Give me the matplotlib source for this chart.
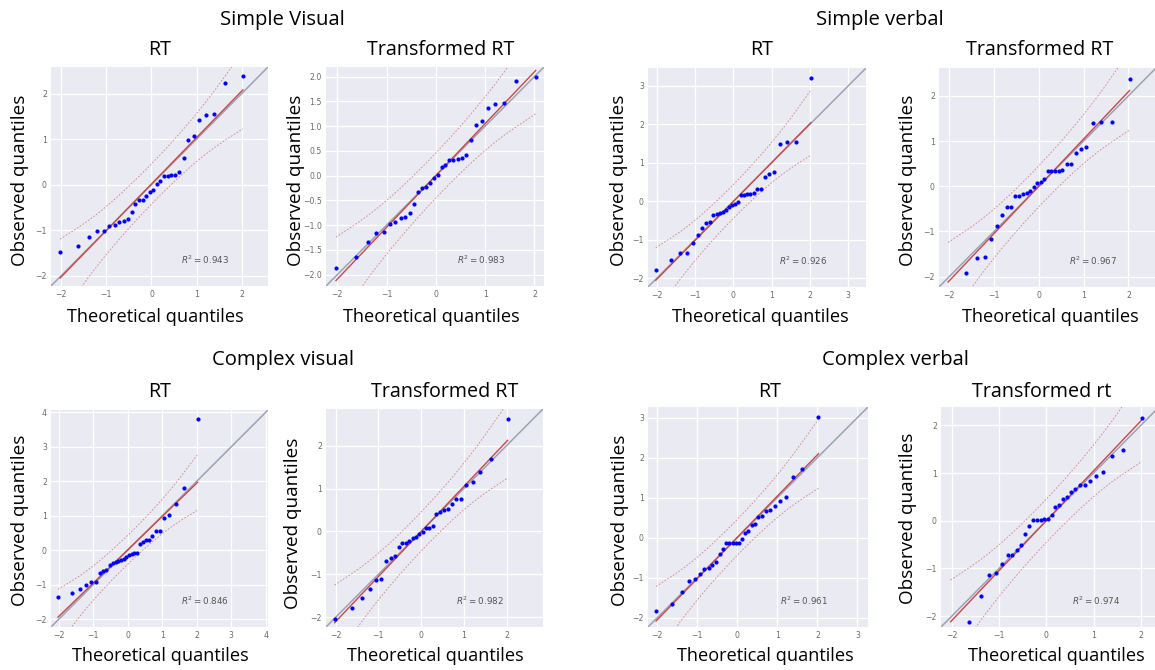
import numpy as np
import matplotlib
matplotlib.use("Agg")
import matplotlib.pyplot as plt
from matplotlib.ticker import MultipleLocator
from statistics import NormalDist

# theoretical normal quantiles for n = 32 (Filliben positions)
theor_q = [-2.025, -1.626, -1.386, -1.207, -1.060, -0.932, -0.819, -0.715,
           -0.618, -0.527, -0.440, -0.356, -0.275, -0.195, -0.116, -0.039,
           0.039, 0.116, 0.195, 0.275, 0.356, 0.440, 0.527, 0.618,
           0.715, 0.819, 0.932, 1.060, 1.207, 1.386, 1.626, 2.025]

# observed (standardised) quantiles, one list per panel
simple_visual_rt = [-1.47, -1.34, -1.15, -1.03, -1.03, -0.91, -0.88, -0.82,
                    -0.81, -0.75, -0.61, -0.42, -0.34, -0.33, -0.26, -0.17,
                    -0.11, 0.02, 0.07, 0.18, 0.18, 0.20, 0.21, 0.28,
                    0.59, 0.97, 1.06, 1.41, 1.53, 1.54, 2.23, 2.39]
simple_visual_trt = [-1.855, -1.64, -1.34, -1.15, -1.13, -0.98, -0.93, -0.86,
                     -0.83, -0.76, -0.57, -0.34, -0.24, -0.23, -0.15, -0.04,
                     0.01, 0.17, 0.21, 0.31, 0.32, 0.33, 0.35, 0.42,
                     0.71, 1.03, 1.10, 1.36, 1.45, 1.46, 1.91, 2.00]
simple_verbal_rt = [-1.79, -1.53, -1.34, -1.34, -1.08, -0.88, -0.70, -0.56,
                    -0.55, -0.36, -0.34, -0.30, -0.27, -0.24, -0.15, -0.10,
                    -0.08, -0.02, 0.17, 0.17, 0.18, 0.19, 0.21, 0.33,
                    0.33, 0.63, 0.72, 0.77, 1.49, 1.53, 1.53, 3.21]
simple_verbal_trt = [-2.52, -1.91, -1.58, -1.56, -1.16, -0.88, -0.64, -0.46,
                     -0.45, -0.22, -0.22, -0.17, -0.14, -0.10, -0.01, 0.07,
                     0.09, 0.15, 0.33, 0.33, 0.34, 0.34, 0.36, 0.49,
                     0.49, 0.74, 0.83, 0.86, 1.40, 1.41, 1.42, 2.37]
complex_visual_rt = [-1.36, -1.23, -1.12, -1.02, -0.92, -0.92, -0.66, -0.61,
                     -0.58, -0.42, -0.38, -0.35, -0.31, -0.28, -0.25, -0.19,
                     -0.14, -0.11, -0.08, -0.07, 0.19, 0.25, 0.29, 0.30,
                     0.42, 0.55, 0.55, 0.93, 1.01, 1.34, 1.80, 3.81]
complex_visual_trt = [-2.05, -1.78, -1.54, -1.34, -1.14, -1.12, -0.70, -0.62,
                      -0.57, -0.36, -0.28, -0.27, -0.22, -0.16, -0.12, -0.05,
                      -0.01, 0.08, 0.09, 0.12, 0.41, 0.45, 0.51, 0.52,
                      0.64, 0.76, 0.76, 1.08, 1.15, 1.39, 1.69, 2.62]
complex_verbal_rt = [-1.83, -1.66, -1.35, -1.07, -1.03, -0.91, -0.77, -0.76,
                     -0.69, -0.61, -0.41, -0.27, -0.14, -0.14, -0.13, -0.12,
                     -0.12, -0.03, 0.12, 0.18, 0.32, 0.35, 0.51, 0.55,
                     0.67, 0.69, 0.78, 0.91, 1.01, 1.51, 1.71, 3.02]
complex_verbal_trt = [-2.55, -2.12, -1.58, -1.14, -1.09, -0.91, -0.72, -0.71,
                      -0.61, -0.51, -0.27, -0.12, 0.01, 0.01, 0.01, 0.03,
                      0.03, 0.13, 0.28, 0.33, 0.46, 0.49, 0.61, 0.66,
                      0.75, 0.76, 0.84, 0.93, 1.02, 1.35, 1.48, 2.15]

panel_data = [simple_visual_rt, simple_visual_trt, simple_verbal_rt, simple_verbal_trt,
              complex_visual_rt, complex_visual_trt, complex_verbal_rt, complex_verbal_trt]
r2_values = [0.943, 0.983, 0.926, 0.967, 0.846, 0.982, 0.961, 0.974]
panel_titles = ["RT", "Transformed RT", "RT", "Transformed RT",
                "RT", "Transformed RT", "RT", "Transformed rt"]
group_titles = ["Simple Visual", "Simple verbal", "Complex visual", "Complex verbal"]

W, H = 1155, 670
LABEL_FONT = ["Open Sans", "DejaVu Sans"]

# axes boxes in pixels: left, top, right, bottom
boxes = [(51, 67, 268, 286), (326, 67, 544, 286), (648, 68, 866, 287), (939, 68, 1156, 287),
         (51, 410, 268, 627), (326, 409, 543, 627), (648, 407, 868, 627), (941, 407, 1159, 627)]
title_pos = [(160, 50), (441, 50), (762, 50), (1040, 50),
             (160, 392), (445, 392), (770, 392), (1042, 392)]
xlabel_pos = [(155, 317), (431, 317), (760, 317), (1050, 317),
              (160, 656), (435, 656), (765, 656), (1056, 656)]
ylabel_pos = [(20, 180), (296, 180), (619, 180), (908, 180),
              (20, 520), (293, 523), (620, 520), (908, 518)]
group_pos = [(282, 20), (880, 20), (283, 360), (895, 360)]

fig = plt.figure(figsize=(W / 100, H / 100), dpi=100)
nd = NormalDist()
theor = np.array(theor_q)
n = len(theor)
ppts = (np.arange(1, n + 1) - 0.5) / n
crit = nd.inv_cdf(0.975)
pdf = np.array([nd.pdf(t) for t in theor])

for i, obs in enumerate(panel_data):
    l, t, r, b = boxes[i]
    ax = fig.add_axes([l / W, 1 - b / H, (r - l) / W, (b - t) / H])
    ax.set_facecolor("#EAEAF2")
    for s in ax.spines.values():
        s.set_visible(False)
    ax.grid(True, color="white", lw=0.9)
    ax.set_axisbelow(True)

    obs = np.array(obs)
    ax.plot(theor, obs, "o", color="blue", ms=3, mew=0, zorder=3)

    # square limits: lower from x, upper from y
    lo = ax.get_xlim()[0]
    hi = ax.get_ylim()[1]
    ax.plot([lo, hi], [lo, hi], color="#9aa3b5", lw=1.1, zorder=2)
    ax.set_xlim(lo, hi)
    ax.set_ylim(lo, hi)

    slope, intercept = np.polyfit(theor, obs, 1)
    fit = slope * theor + intercept
    ax.plot(theor, fit, color="#c84848", lw=1.0, zorder=2)

    se = (slope / pdf) * np.sqrt(ppts * (1 - ppts) / n)
    ax.plot(theor, fit + crit * se, color="#d05050", lw=0.6, ls=(0, (2, 2)), alpha=0.7)
    ax.plot(theor, fit - crit * se, color="#d05050", lw=0.6, ls=(0, (2, 2)), alpha=0.7)

    ax.text(lo + 0.6 * (hi - lo), lo + 0.1 * (hi - lo), "$R^2=%.3f$" % r2_values[i],
            fontsize=6.3, color="#555555")

    ax.xaxis.set_major_locator(MultipleLocator(1))
    ax.yaxis.set_major_locator(MultipleLocator(0.5 if i == 1 else 1))
    ax.tick_params(length=0, labelsize=5.6, labelcolor="#6a6a6a", pad=3)

    fig.text(title_pos[i][0] / W, 1 - title_pos[i][1] / H, panel_titles[i],
             ha="center", va="center", fontsize=14.2, family=LABEL_FONT)
    fig.text(xlabel_pos[i][0] / W, 1 - xlabel_pos[i][1] / H, "Theoretical quantiles",
             ha="center", va="center", fontsize=13.1, family=LABEL_FONT)
    fig.text(ylabel_pos[i][0] / W, 1 - ylabel_pos[i][1] / H, "Observed quantiles",
             ha="center", va="center", rotation=90, fontsize=13.6, family=LABEL_FONT)

for (gx, gy), gt in zip(group_pos, group_titles):
    fig.text(gx / W, 1 - gy / H, gt, ha="center", va="center", fontsize=14.6,
             family=LABEL_FONT)

fig.savefig("out.png", dpi=100, facecolor="white")
